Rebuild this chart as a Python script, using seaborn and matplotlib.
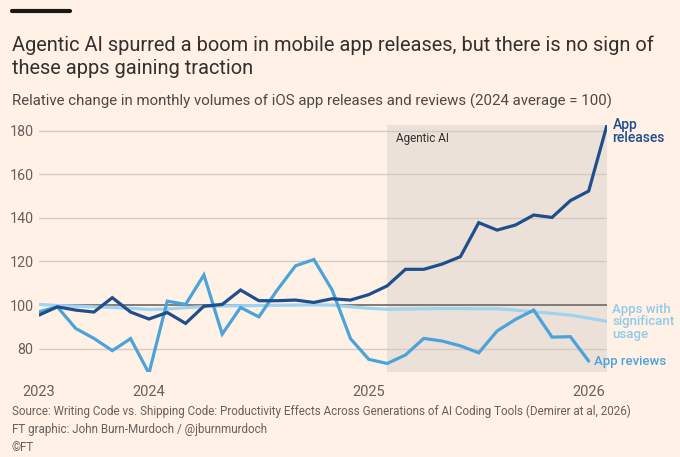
import numpy as np
import matplotlib
matplotlib.use("Agg")
import matplotlib.pyplot as plt
import pandas as pd
import seaborn as sns

# values (2024 average = 100), monthly
months = list(range(32))
releases = [95.4, 99.2, 97.7, 96.8, 103.4, 96.8, 93.6, 96.6, 91.6, 99.5, 100.3, 106.9,
            102.0, 102.0, 102.3, 101.2, 102.9, 102.3, 104.8, 108.8, 116.4, 116.4, 118.8, 122.2,
            137.8, 134.4, 136.7, 141.3, 140.2, 147.9, 152.3, 182.6]
reviews = [96.9, 99.2, 89.3, 84.7, 79.1, 84.6, 68.7, 101.8, 100.3, 113.8, 86.7, 98.9,
           94.6, 106.9, 118.0, 120.9, 106.9, 84.6, 75.1, 73.2, 77.1, 84.7, 83.5, 81.3,
           78.1, 88.1, 93.4, 97.7, 85.3, 85.5, 74.3]
significant = [100.3, 99.8, 99.5, 99.2, 98.9, 98.5, 98.0, 98.2, 98.8, 99.3, 99.6, 99.7,
               99.8, 99.9, 100.0, 100.1, 100.0, 99.2, 98.5, 98.1, 98.2, 98.3, 98.4, 98.4,
               98.3, 98.3, 97.7, 96.9, 96.2, 95.4, 94.0, 92.5]
tick_pos = [0, 6, 18, 30]
tick_labels = ["2023", "2024", "2025", "2026"]
agentic_start = 19

series = ["Apps with significant usage", "App reviews", "App releases"]
colors = {"App releases": "#1f4e8c", "App reviews": "#4ba3d9",
          "Apps with significant usage": "#9fd3ef"}

df = pd.concat([
    pd.DataFrame({"month": months[:len(significant)], "value": significant, "series": series[0]}),
    pd.DataFrame({"month": months[:len(reviews)], "value": reviews, "series": series[1]}),
    pd.DataFrame({"month": months[:len(releases)], "value": releases, "series": series[2]}),
])

sns.set_style("white")
plt.rcParams["font.family"] = ["Roboto", "DejaVu Sans"]

bg = "#fff1e5"
text_dark = "#33302e"
text_mid = "#66605c"

fig = plt.figure(figsize=(6.8, 4.57), dpi=100, facecolor=bg)
ax = fig.add_axes([39 / 680, 1 - 372 / 457, 568 / 680, 247 / 457])
ax.set_facecolor(bg)

ax.axvspan(agentic_start, months[-1], color="#ebe1d9", zorder=0, lw=0)
for y in [80, 120, 140, 160, 180]:
    ax.axhline(y, color="#d6cac0", lw=1, zorder=1)
ax.axhline(100, color="#6f6864", lw=1.2, zorder=1)

sns.lineplot(data=df, x="month", y="value", hue="series", hue_order=series,
             palette=colors, legend=False, ax=ax, zorder=3)
for line in ax.get_lines()[-3:]:
    line.set_linewidth(2.3)
    line.set_solid_joinstyle("miter")

ax.set_xlim(0, 31)
ax.set_ylim(69.3, 182.6)
ax.set_xlabel("")
ax.set_ylabel("")
ax.set_yticks([80, 100, 120, 140, 160, 180])
ax.set_xticks(tick_pos)
ax.set_xticklabels(tick_labels)
ax.tick_params(axis="y", length=0, pad=4, labelsize=10.3, labelcolor=text_mid)
ax.tick_params(axis="x", length=6, width=0.8, color="#8a837e", pad=3,
               labelsize=10.5, labelcolor=text_mid)
for s in ax.spines.values():
    s.set_visible(False)

ax.text(agentic_start + 0.5, 176.3, "Agentic AI", fontsize=8.5, color=text_dark,
        ha="left", va="center")

ax.text(31.3, 185.8, "App\nreleases", fontsize=10, color="#1f4e8c", ha="left",
        va="top", linespacing=0.95, clip_on=False, fontweight="medium")
ax.text(31.3, 101.0, "Apps with\nsignificant\nusage", fontsize=9.5, color="#8fcbea",
        ha="left", va="top", linespacing=0.95, clip_on=False, fontweight="medium")
ax.text(30.3, 74.3, "App reviews", fontsize=9.5, color="#4ba3d9", ha="left",
        va="center", clip_on=False, fontweight="medium")

# header
fig.add_artist(plt.Line2D([12 / 680, 70 / 680], [1 - 11 / 457, 1 - 11 / 457],
                          color="#1a1817", lw=3))
fig.text(12 / 680, 1 - 45 / 457,
         "Agentic AI spurred a boom in mobile app releases, but there is no sign of",
         fontsize=14.4, color=text_dark, va="center", ha="left")
fig.text(12 / 680, 1 - 69 / 457, "these apps gaining traction",
         fontsize=14.4, color=text_dark, va="center", ha="left")
fig.text(12 / 680, 1 - 101 / 457,
         "Relative change in monthly volumes of iOS app releases and reviews (2024 average = 100)",
         fontsize=10.8, color="#4d4845", va="center", ha="left")

# footer
foot = ("Source: Writing Code vs. Shipping Code: Productivity Effects Across Generations of AI Coding Tools (Demirer at al, 2026)\n"
        "FT graphic: John Burn-Murdoch / @jburnmurdoch\n"
        "\u00a9FT")
fig.text(12 / 680, 1 - 405 / 457, foot, fontsize=8.4, color=text_mid, va="top",
         ha="left", linespacing=1.5)

fig.savefig("out.png", dpi=100, facecolor=bg)
